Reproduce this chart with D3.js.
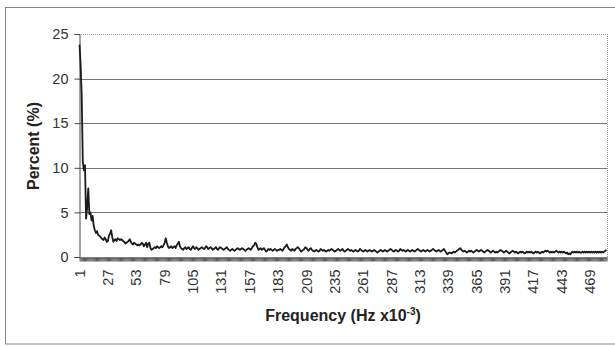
<!DOCTYPE html>
<html><head><meta charset="utf-8">
<script src="https://cdn.jsdelivr.net/npm/d3@7"></script>
<style>body{margin:0;background:#fff}svg{display:block}text{font-family:Arial,"Liberation Sans",sans-serif}</style>
</head><body><div id="c"></div>
<script>
const values = [
23.8,21.5,18.0,10.6,9.7,10.3,4.3,5.6,7.7,4.8,5.0,4.1,4.6,3.5,3.0,2.7,2.9,2.5,2.4,2.3,
2.1,2.0,1.9,2.2,2.0,1.7,1.8,2.4,2.6,3.0,2.2,1.7,1.9,2.0,1.8,2.1,2.0,1.9,2.0,1.9,
1.8,1.7,1.5,1.6,1.7,1.8,2.0,1.7,1.5,1.4,1.6,1.5,1.4,1.3,1.4,1.3,1.4,1.6,1.5,1.2,
1.4,1.6,1.1,1.5,1.6,1.0,0.8,0.9,1.0,1.1,1.0,1.2,1.1,1.0,1.1,1.2,1.1,1.3,1.6,2.1,
1.6,1.2,1.0,1.1,1.2,1.0,1.1,1.2,1.0,1.3,1.5,1.7,1.2,1.0,0.9,0.8,1.0,1.1,0.9,1.0,
1.1,0.9,0.8,1.0,1.2,1.0,0.9,1.1,1.0,0.8,0.9,1.0,1.1,1.0,0.9,1.0,1.2,1.1,0.9,1.0,
1.1,1.0,0.8,0.9,1.0,1.1,0.9,0.8,1.0,1.1,1.0,0.9,0.8,0.9,1.0,1.1,0.9,0.8,0.7,0.8,
0.9,0.8,0.7,0.8,0.9,1.0,0.9,0.8,0.9,1.0,0.9,0.8,0.7,0.8,0.9,1.0,0.9,0.8,1.0,1.2,
1.3,1.6,1.5,1.1,0.8,0.9,1.0,0.8,0.9,1.0,0.8,0.6,0.7,0.9,0.8,0.9,0.8,0.7,0.8,0.9,
0.8,0.7,0.8,0.8,0.9,0.8,0.7,0.9,1.1,1.2,1.4,1.1,0.9,0.8,0.7,0.9,0.8,0.7,0.9,1.0,
1.1,1.0,0.8,0.6,0.7,0.8,0.9,1.1,1.0,0.8,0.7,0.9,1.0,0.8,0.7,0.6,0.7,0.8,0.7,0.6,
0.7,0.9,0.8,0.7,0.8,0.7,0.6,0.7,0.8,0.7,0.8,0.9,0.8,0.7,0.6,0.7,0.8,0.9,0.8,0.7,
0.8,0.9,0.7,0.6,0.7,0.8,0.9,0.8,0.7,0.8,0.7,0.6,0.7,0.8,0.7,0.6,0.7,0.9,0.8,0.7,
0.6,0.7,0.8,0.7,0.6,0.7,0.8,0.7,0.6,0.7,0.8,0.7,0.6,0.5,0.6,0.7,0.8,0.7,0.6,0.7,
0.8,0.7,0.6,0.7,0.8,0.9,0.8,0.7,0.6,0.7,0.8,0.7,0.6,0.7,0.9,0.8,0.7,0.8,0.7,0.6,
0.7,0.8,0.7,0.6,0.7,0.8,0.7,0.6,0.7,0.8,0.9,0.8,0.7,0.6,0.7,0.8,0.7,0.6,0.7,0.8,
0.7,0.6,0.7,0.8,0.9,0.8,0.7,0.6,0.7,0.8,0.7,0.6,0.7,0.8,0.9,0.7,0.5,0.3,0.4,0.5,
0.5,0.4,0.5,0.6,0.5,0.6,0.7,0.8,0.9,1.0,0.8,0.7,0.6,0.7,0.6,0.5,0.6,0.7,0.6,0.7,
0.6,0.5,0.6,0.7,0.8,0.7,0.6,0.7,0.8,0.7,0.6,0.5,0.6,0.7,0.8,0.7,0.6,0.5,0.6,0.7,
0.6,0.5,0.6,0.5,0.6,0.7,0.8,0.7,0.6,0.5,0.6,0.7,0.6,0.5,0.4,0.5,0.6,0.7,0.6,0.5,
0.6,0.5,0.4,0.5,0.6,0.5,0.6,0.5,0.4,0.5,0.6,0.5,0.6,0.5,0.6,0.5,0.4,0.5,0.6,0.5,
0.6,0.5,0.4,0.5,0.6,0.5,0.6,0.7,0.6,0.7,0.6,0.5,0.6,0.5,0.6,0.5,0.6,0.7,0.6,0.5,
0.6,0.5,0.6,0.5,0.6,0.5,0.4,0.5,0.3,0.4,0.3,0.5,0.6,0.5,0.6,0.5,0.6,0.5,0.6,0.5,
0.5,0.6,0.5,0.6,0.5,0.6,0.5,0.6,0.5,0.6,0.5,0.6,0.5,0.6,0.5,0.6,0.5,0.6,0.5,0.6,
0.5,0.6,0.7,0.8
];
const categories = values.map((v, i) => i + 1);
const yTicks = [0, 5, 10, 15, 20, 25];
const labelStep = 26;
const yTitle = "Percent (%)";

const W = 615, H = 346;
const m = {left: 79, right: 8, top: 34, bottom: 89};
const svg = d3.select("#c").append("svg").attr("width", W).attr("height", H);

// outer frame
svg.append("rect").attr("x", 5.5).attr("y", 7.5).attr("width", 620).attr("height", 336.5)
  .attr("fill", "#fff").attr("stroke", "#888").attr("stroke-width", 1);

const x = d3.scaleBand().domain(categories).range([m.left, W - m.right]);
const y = d3.scaleLinear().domain([0, 25]).range([H - m.bottom, m.top]);

// gridlines
svg.append("g").selectAll("line").data(yTicks.filter(d => d > 0)).join("line")
  .attr("x1", m.left).attr("x2", W - m.right)
  .attr("y1", d => Math.round(y(d)) + 0.5).attr("y2", d => Math.round(y(d)) + 0.5)
  .attr("stroke", d => d === 25 ? "#999" : "#777").attr("stroke-width", 1)
  .attr("stroke-dasharray", d => d === 25 ? "1,1" : null);
// right border
svg.append("line").attr("x1", W - m.right + 0.5).attr("x2", W - m.right + 0.5)
  .attr("y1", m.top).attr("y2", y(0)).attr("stroke", "#999").attr("stroke-dasharray", "1,1");

// y axis
const ya = svg.append("g").attr("transform", `translate(${m.left + 0.5},0)`)
  .call(d3.axisLeft(y).tickValues(yTicks).tickSize(5).tickPadding(6));
ya.selectAll("text").attr("font-size", 14.5).attr("fill", "#333").attr("font-family", "Arial");
ya.selectAll("line, path").attr("stroke", "#444");

// x axis
const xa = svg.append("g").attr("transform", `translate(0,${Math.round(y(0)) + 0.5})`)
  .call(d3.axisBottom(x).tickSize(4).tickSizeOuter(0)
    .tickFormat(d => ((d - 1) % labelStep === 0) ? d : ""));
xa.selectAll(".tick line").attr("stroke", "#555").attr("transform", d => `translate(${x.bandwidth() / 2},0)`);
xa.select("path").attr("stroke", "#444");
xa.selectAll("text").attr("font-size", 14.5).attr("fill", "#333").attr("font-family", "Arial")
  .attr("transform", "rotate(-90)").attr("text-anchor", "end")
  .attr("x", -12).attr("y", 0).attr("dy", "0.35em");

// line
const line = d3.line().x((d, i) => x(categories[i]) + x.bandwidth() / 2).y(d => y(d));
svg.append("path").datum(values).attr("d", line)
  .attr("fill", "none").attr("stroke", "#1a1a1a").attr("stroke-width", 1.8)
  .attr("stroke-linejoin", "round");

// titles
svg.append("text").attr("transform", `translate(39,146) rotate(-90)`)
  .attr("text-anchor", "middle").attr("font-size", 16).attr("font-weight", "bold").attr("fill", "#222")
  .text(yTitle);
const xt = svg.append("text").attr("x", 343).attr("y", 321).attr("text-anchor", "middle")
  .attr("font-size", 16).attr("font-weight", "bold").attr("fill", "#222");
xt.append("tspan").text("Frequency (Hz x10");
xt.append("tspan").attr("font-size", 10).attr("dy", -6).text("-3");
xt.append("tspan").attr("dy", 6).text(")");
</script></body></html>
